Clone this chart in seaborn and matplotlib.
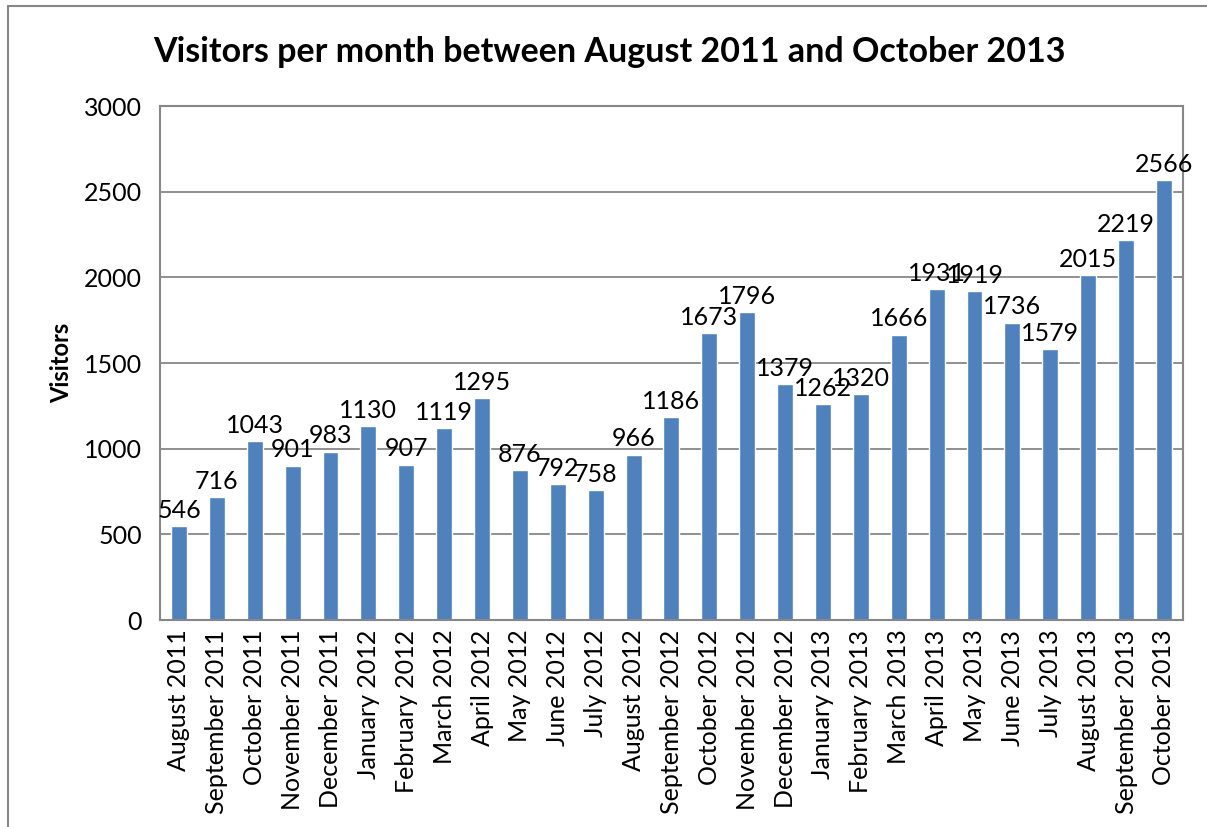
import matplotlib
matplotlib.use("Agg")
import matplotlib.pyplot as plt
import seaborn as sns
import pandas as pd
from matplotlib.lines import Line2D

# data
months = ["August 2011", "September 2011", "October 2011", "November 2011", "December 2011",
          "January 2012", "February 2012", "March 2012", "April 2012", "May 2012", "June 2012",
          "July 2012", "August 2012", "September 2012", "October 2012", "November 2012",
          "December 2012", "January 2013", "February 2013", "March 2013", "April 2013",
          "May 2013", "June 2013", "July 2013", "August 2013", "September 2013", "October 2013"]
visitors = [546, 716, 1043, 901, 983, 1130, 907, 1119, 1295, 876, 792, 758, 966, 1186,
            1673, 1796, 1379, 1262, 1320, 1666, 1931, 1919, 1736, 1579, 2015, 2219, 2566]

df = pd.DataFrame({"month": months, "visitors": visitors})

sns.set_style("white", {"text.color": "black", "axes.labelcolor": "black",
                        "xtick.color": "black", "ytick.color": "black"})
plt.rcParams['font.family'] = ['Lato', 'DejaVu Sans']

fig = plt.figure(figsize=(12.07, 8.27), dpi=100)
ax = fig.add_axes([0.1326, 0.2503, 0.8474, 0.6215])

sns.barplot(data=df, x="month", y="visitors", color="#4F81BD", width=0.42,
            saturation=1, ax=ax)

ax.set_ylim(0, 3000)
ax.set_yticks(range(0, 3001, 500))
ax.set_xlim(-0.5, len(months) - 0.5)
ax.yaxis.grid(True, color="#878787", linewidth=1.3)
ax.set_axisbelow(True)
for s in ax.spines.values():
    s.set_color("#878787")
    s.set_linewidth(1.5)

ax.tick_params(axis="y", labelsize=18, length=0, pad=13)
ax.tick_params(axis="x", labelsize=18, length=0, pad=7)
plt.setp(ax.get_xticklabels(), rotation=90)
ax.set_xlabel("")
ax.set_ylabel("Visitors", fontsize=17, fontweight="bold", labelpad=8, color="black")

ax.bar_label(ax.containers[0], fontsize=18, padding=3, color="black")

fig.suptitle("Visitors per month between August 2011 and October 2013",
             fontsize=24.5, fontweight="bold", x=0.505, y=0.957, color="black")

# chart area border (left and top only, as in the crop)
fig.add_artist(Line2D([0.0066, 0.0066], [0.0, 0.9927], color="#878787", linewidth=1.5))
fig.add_artist(Line2D([0.0066, 1.0], [0.9927, 0.9927], color="#878787", linewidth=1.5))

fig.savefig("out.png", dpi=100)
